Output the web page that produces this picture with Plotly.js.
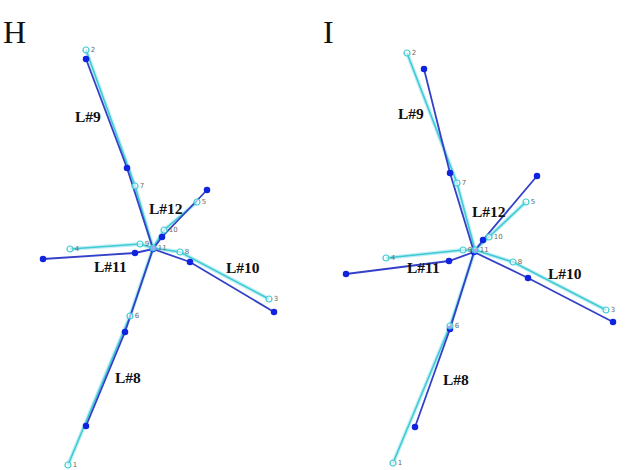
<!DOCTYPE html>
<html>
<head>
<meta charset="utf-8">
<script src="https://cdn.plot.ly/plotly-3.0.1.min.js"></script>
<style>
  html, body { margin: 0; padding: 0; background: #fff; }
  #chart { width: 640px; height: 470px; }
</style>
</head>
<body>
<div id="chart"></div>
<script>
// Node positions of the feeder network (nodes 1..11, node 11 is the hub).
// "ref" = reference layout (cyan), "est" = estimated layout (blue).
const nodeIds = [1, 2, 3, 4, 5, 6, 7, 8, 9, 10, 11];

const refXH = [68, 86, 269, 70, 197, 130, 135, 180, 140, 164, 153];
const refYH = [465, 50, 299, 249, 202, 316, 186, 252, 244, 230, 248];
const estXH = [86, 86, 274, 43, 207, 125, 127, 190, 135, 162, 153];
const estYH = [426, 59, 312, 259, 190, 332, 168, 262, 253, 237, 249];

const refXI = [73, 87, 286, 66, 206, 130, 137, 193, 143, 169, 155];
const refYI = [463, 53, 310, 258, 202, 326, 183, 262, 250, 237, 250];
const estXI = [95, 104, 293, 26, 217, 130, 130, 208, 129, 163, 154];
const estYI = [427, 69, 322, 274, 176, 329, 173, 278, 261, 240, 252];

// Lines: each branch is a chain of node ids.
const lineNames = ['L#9', 'L#12', 'L#11', 'L#10', 'L#8'];
const lineChains = [[2, 7, 11], [11, 10, 5], [11, 9, 4], [11, 8, 3], [11, 6, 1]];

// Where each line name is written, per panel.
const labelXH = [88, 166, 110, 243, 128];
const labelYH = [116, 208, 266, 267, 377];
const labelXI = [91, 169, 103, 245, 136];
const labelYI = [113, 211, 267, 273, 379];

const panelNames = ['H', 'I'];

const CYAN = '#3fcad4';
const BLUE = '#3440c8';
const BLUE_DOT = '#1024e0';

function chainCoords(xs, ys) {
  const x = [], y = [];
  lineChains.forEach(chain => {
    chain.forEach(id => {
      const i = nodeIds.indexOf(id);
      x.push(xs[i]); y.push(ys[i]);
    });
    x.push(null); y.push(null);
  });
  return { x, y };
}

function panelTraces(refX, refY, estX, estY, xa, ya) {
  const r = chainCoords(refX, refY);
  const e = chainCoords(estX, estY);
  return [
    { type: 'scatter', mode: 'lines', x: r.x, y: r.y, xaxis: xa, yaxis: ya,
      line: { color: 'rgba(120,220,235,0.45)', width: 4 }, hoverinfo: 'skip' },
    { type: 'scatter', mode: 'lines', x: r.x, y: r.y, xaxis: xa, yaxis: ya,
      line: { color: CYAN, width: 1.6 }, hoverinfo: 'skip' },
    { type: 'scatter', mode: 'lines', x: e.x, y: e.y, xaxis: xa, yaxis: ya,
      line: { color: BLUE, width: 1.8 }, hoverinfo: 'skip' },
    { type: 'scatter', mode: 'markers', x: estX, y: estY, xaxis: xa, yaxis: ya,
      marker: { color: BLUE_DOT, size: 6.5 }, hoverinfo: 'skip' },
    { type: 'scatter', mode: 'markers+text', x: refX, y: refY, xaxis: xa, yaxis: ya,
      text: nodeIds.map(String), textposition: 'middle right',
      textfont: { family: 'DejaVu Sans', size: 7, color: '#6a6a6a' },
      marker: { symbol: 'circle', size: 6, color: 'rgba(255,255,255,0.6)',
                line: { color: CYAN, width: 1.2 } },
      hoverinfo: 'skip' }
  ];
}

const data = [
  ...panelTraces(refXH, refYH, estXH, estYH, 'x', 'y'),
  ...panelTraces(refXI, refYI, estXI, estYI, 'x2', 'y2')
];

const lineLabelFont = { family: 'Liberation Serif', size: 15.5, color: '#111' };
const annotations = [];
lineNames.forEach((name, i) => {
  annotations.push({ xref: 'x', yref: 'y', x: labelXH[i], y: labelYH[i], text: '<b>' + name + '</b>',
                     showarrow: false, font: lineLabelFont });
  annotations.push({ xref: 'x2', yref: 'y2', x: labelXI[i], y: labelYI[i], text: '<b>' + name + '</b>',
                     showarrow: false, font: lineLabelFont });
});
panelNames.forEach((p, i) => {
  annotations.push({ xref: 'paper', yref: 'paper', x: i === 0 ? 0.022 : 0.514, y: 0.932,
                     xanchor: 'center', yanchor: 'middle',
                     text: p, showarrow: false,
                     font: { family: 'Liberation Serif', size: 32, color: '#111' } });
});

const hidden = { visible: false, fixedrange: true };
const layout = {
  width: 640, height: 470,
  margin: { l: 0, r: 0, t: 0, b: 0 },
  paper_bgcolor: '#fff', plot_bgcolor: '#fff',
  showlegend: false,
  xaxis:  { ...hidden, domain: [0, 0.5], range: [0, 320] },
  yaxis:  { ...hidden, domain: [0, 1], range: [470, 0] },
  xaxis2: { ...hidden, domain: [0.5, 1], range: [0, 320] },
  yaxis2: { ...hidden, domain: [0, 1], range: [470, 0], anchor: 'x2' },
  annotations
};

Plotly.newPlot('chart', data, layout, { staticPlot: true, displayModeBar: false });
</script>
</body>
</html>
